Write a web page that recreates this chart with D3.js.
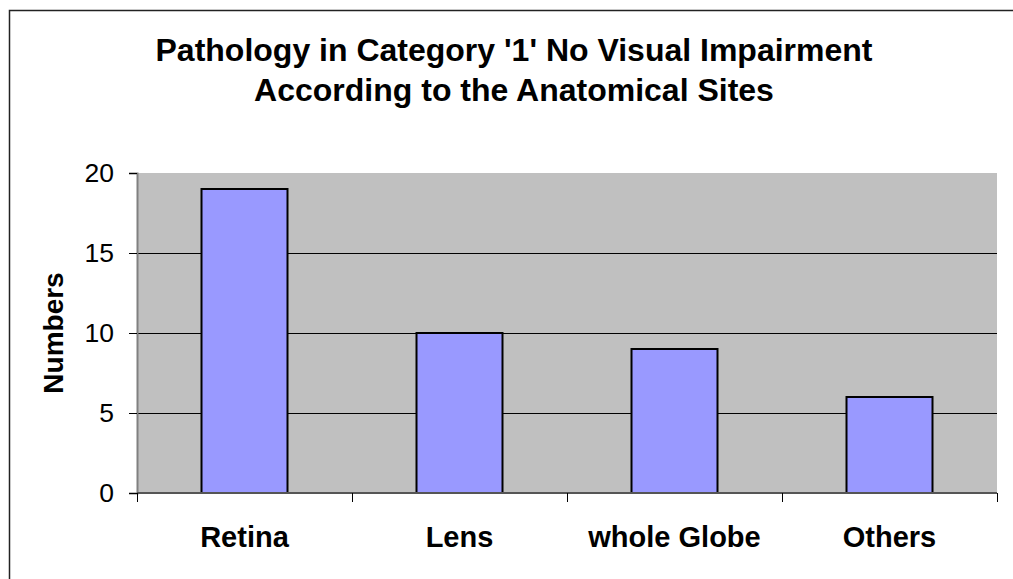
<!DOCTYPE html>
<html>
<head>
<meta charset="utf-8">
<script src="https://cdn.jsdelivr.net/npm/d3@7"></script>
<style>
  body { margin: 0; background: #fff; }
  svg { display: block; font-family: "Liberation Sans", Arial, sans-serif; }
</style>
</head>
<body>
<div id="chart"></div>
<script>
// Chart data
var categories = ["Retina", "Lens", "whole Globe", "Others"];
var values = [19, 10, 9, 6];
var yTicks = [0, 5, 10, 15, 20];
var titleLines = ["Pathology in Category '1' No Visual Impairment", "According to the Anatomical Sites"];
var yLabel = "Numbers";

window.onload = function() {
    barChart();
};

function barChart() {
    var w = 1013;
    var h = 579;
    var plot = { left: 137, top: 173, right: 997, bottom: 493 };

    var svg = d3.select("#chart")
                .append("svg")
                .attr("width", w)
                .attr("height", h);

    // outer chart border (runs off the right and bottom edges)
    svg.append("rect")
       .attr("x", 9.5).attr("y", 10.5)
       .attr("width", w).attr("height", h)
       .attr("fill", "#fff")
       .attr("stroke", "#222")
       .attr("stroke-width", 1.5);

    // title
    svg.selectAll("text.title")
       .data(titleLines)
       .enter()
       .append("text")
       .attr("class", "title")
       .attr("x", 514)
       .attr("y", function(d, i) { return 61 + i * 40; })
       .attr("text-anchor", "middle")
       .attr("font-size", 32)
       .attr("font-weight", "bold")
       .text(function(d) { return d; });

    var x = d3.scaleBand()
              .domain(categories)
              .range([plot.left, plot.right])
              .paddingInner(0.6)
              .paddingOuter(0.3);

    var xOuter = d3.scaleBand()
              .domain(categories)
              .range([plot.left, plot.right]);

    var y = d3.scaleLinear()
              .domain([0, 20])
              .range([plot.bottom, plot.top]);

    // plot area
    svg.append("rect")
       .attr("x", plot.left)
       .attr("y", plot.top)
       .attr("width", plot.right - plot.left)
       .attr("height", plot.bottom - plot.top)
       .attr("fill", "#c0c0c0");

    // gridlines
    svg.selectAll("line.grid")
       .data(yTicks.filter(function(d) { return d > 0 && d < 20; }))
       .enter()
       .append("line")
       .attr("class", "grid")
       .attr("x1", plot.left)
       .attr("x2", plot.right)
       .attr("y1", function(d) { return Math.round(y(d)) + 0.5; })
       .attr("y2", function(d) { return Math.round(y(d)) + 0.5; })
       .attr("stroke", "#000")
       .attr("stroke-width", 1);

    // bars
    svg.selectAll("rect.bar")
       .data(values)
       .enter()
       .append("rect")
       .attr("class", "bar")
       .attr("x", function(d, i) { return x(categories[i]); })
       .attr("y", function(d) { return y(d); })
       .attr("width", x.bandwidth())
       .attr("height", function(d) { return y(0) - y(d); })
       .attr("fill", "#9999ff")
       .attr("stroke", "#000")
       .attr("stroke-width", 2);

    // y axis
    var yAxis = d3.axisLeft(y)
                  .tickValues(yTicks)
                  .tickSize(8)
                  .tickPadding(15);
    var gy = svg.append("g")
                .attr("transform", "translate(" + plot.left + ",0)")
                .call(yAxis);
    gy.select(".domain").attr("stroke", "#808080").attr("stroke-width", 2);
    gy.selectAll(".tick line").attr("stroke", "#000");
    gy.selectAll(".tick text")
      .attr("font-family", "'Liberation Sans', Arial, sans-serif")
      .attr("font-size", 26.5)
      .attr("fill", "#000");

    // x axis line and boundary ticks
    svg.append("line")
       .attr("x1", plot.left).attr("x2", plot.right)
       .attr("y1", plot.bottom).attr("y2", plot.bottom)
       .attr("stroke", "#555")
       .attr("stroke-width", 2);

    var bounds = categories.map(function(c) { return xOuter(c); }).concat([plot.right]);
    svg.selectAll("line.xtick")
       .data(bounds)
       .enter()
       .append("line")
       .attr("class", "xtick")
       .attr("x1", function(d) { return Math.round(d) + 0.5; })
       .attr("x2", function(d) { return Math.round(d) + 0.5; })
       .attr("y1", plot.bottom)
       .attr("y2", plot.bottom + 9)
       .attr("stroke", "#000");

    // category labels
    svg.selectAll("text.cat")
       .data(categories)
       .enter()
       .append("text")
       .attr("class", "cat")
       .attr("x", function(d) { return xOuter(d) + xOuter.bandwidth() / 2; })
       .attr("y", 547)
       .attr("text-anchor", "middle")
       .attr("font-size", 29)
       .attr("font-weight", "bold")
       .text(function(d) { return d; });

    // y axis title
    svg.append("text")
       .attr("transform", "translate(63," + ((plot.top + plot.bottom) / 2) + ") rotate(-90)")
       .attr("text-anchor", "middle")
       .attr("font-size", 28)
       .attr("font-weight", "bold")
       .text(yLabel);
}
</script>
</body>
</html>
